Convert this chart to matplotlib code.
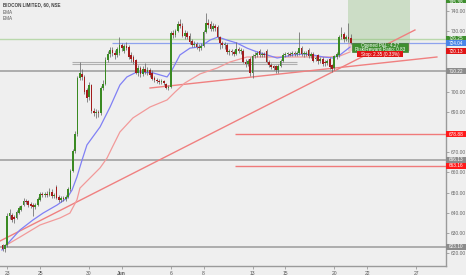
import matplotlib
matplotlib.use("Agg")
import matplotlib.pyplot as plt
import matplotlib.transforms as mtransforms
from matplotlib.patches import Rectangle

plt.rcParams['font.family'] = ['Liberation Sans', 'DejaVu Sans']

# ---------------- data (hourly bars, index 0 = first bar of 23 May) ----------------
first_bar = -2
opens = [624, 621.8,
         624, 638.5, 639, 638, 637.5, 640, 641.5,
         644, 646, 646, 644.5, 644, 643, 644,
         646.5, 649.5, 649, 649.5, 649, 650.5, 648.5,
         652.5, 648, 646.5, 647.5, 647, 648, 651.5,
         660.5, 670.5, 679, 707, 709, 707.5, 701,
         697.5, 703.5, 690.5, 689.5, 690, 689.5, 702,
         704, 715.5, 718.5, 720.5, 719, 718, 719,
         723, 720, 722.5, 722, 718, 717, 715.5,
         709.5, 711.5, 709, 711, 710, 710.5, 709.5,
         707, 706, 705.5, 705, 705.5, 704, 702,
         702.5, 729, 728, 730, 733.5, 732.5, 727.5,
         729, 727.5, 725, 723, 723.5, 722, 721.5,
         722.5, 729.5, 734, 733.5, 731, 732.5, 732,
         727, 724, 723, 723, 719.5, 720, 719.5,
         718.5, 721, 720, 720, 714.5, 713.5, 716,
         709.5, 717.5, 718, 720, 718, 718.5, 720,
         714.5, 713, 712.5, 712.5, 710.5, 712.5, 715,
         718, 718.5, 718.5, 718.5, 719, 718.5, 719,
         721.5, 718.5, 718.5, 720.5, 717.5, 718.5, 716,
         718, 715, 716, 714.5, 714, 716, 713,
         711.5, 717, 718, 727, 728.5, 726, 727,
         726.5]
highs = [624.5, 624.5,
         640, 642, 640, 639, 641.5, 643.5, 644,
         647.5, 647, 646.5, 645.5, 645, 645, 648,
         650.5, 650.5, 650.5, 651, 652, 651.5, 650,
         653.5, 649, 648.5, 648.5, 649, 652.5, 661.5,
         671.5, 680.5, 708, 714.7, 711, 708.5, 702,
         705, 704, 692, 691.5, 691, 703, 706,
         717, 720, 722, 722, 720.5, 722, 727,
         724, 723.5, 724.5, 723, 719.5, 718, 716,
         713, 712.5, 712.5, 714, 712, 711.5, 710.5,
         708, 707, 706.5, 706.5, 706, 704.5, 703.5,
         730, 730.5, 731, 735, 736, 734, 730.5,
         730, 729, 726, 725, 724.5, 723.5, 724,
         730.5, 739, 736, 735, 734, 733.5, 733,
         727.5, 725, 724.5, 724, 721, 721, 720.5,
         724.5, 722, 721.5, 721, 716, 716, 717,
         718.5, 719.5, 720, 721, 719.5, 719.5, 721,
         715.5, 714, 713, 713, 713.5, 716, 719,
         719.5, 719.5, 719.5, 720, 720, 720, 729.5,
         722.5, 720, 720, 721.5, 719.5, 719.5, 717.5,
         718.5, 717, 717, 715.5, 716, 717, 713.5,
         718, 719.5, 728, 732, 729.5, 728, 734,
         728.5]
lows = [621, 620.5,
        623, 637, 635.5, 635, 637, 639.5, 641,
        643.5, 644.5, 643, 642.5, 638.5, 642, 643.5,
        646, 648, 648, 648, 648.5, 647.5, 647.5,
        647, 645.5, 645.5, 646, 646, 647.5, 651,
        660, 669.5, 678, 706, 706, 699, 695,
        696, 689.5, 688, 687, 687.5, 688.5, 701,
        703.5, 714.5, 717, 717.5, 716, 717, 718,
        720, 719, 720.5, 716, 714.5, 713.5, 709,
        708, 707.5, 708, 709, 708.5, 707.5, 706,
        705, 704.5, 704, 704, 703.5, 701.5, 701,
        702, 726.5, 727, 729.5, 731.5, 727, 726,
        726, 723.5, 722, 722, 721, 720, 720.5,
        722, 729, 731.5, 730, 730, 730, 726,
        721, 721.5, 721, 718.5, 718, 718, 717.5,
        718, 719, 718.5, 714, 712, 712.5, 708,
        707, 716.5, 717, 717, 717, 717, 714,
        712, 711, 710.5, 709.5, 709.5, 712, 714.5,
        717, 717.5, 717.5, 717.5, 717.5, 717.5, 718,
        717.5, 717, 717.5, 716.5, 716.5, 714.5, 715,
        713.5, 714, 712.5, 712.5, 713, 711, 710,
        710.5, 716, 717, 726, 724.5, 725, 724.5,
        723.5]
closes = [621.8, 623.8,
          638.5, 640, 636.5, 637, 640.5, 642.5, 643.5,
          646, 645.5, 644, 643.5, 643, 644, 647,
          649.5, 649, 649.5, 649, 650.5, 648.5, 649,
          647.5, 646.5, 647.5, 647, 648, 651.5, 660.5,
          670.5, 679, 707, 709.5, 707.5, 700, 697,
          703.5, 690.5, 689.5, 690, 689.5, 702, 704,
          715.5, 718.5, 720.5, 719, 718, 721, 723,
          721.5, 722.5, 721.5, 717, 716, 714.5, 709.5,
          711.5, 709, 711, 710, 710.5, 708.5, 706.5,
          706, 705.5, 705, 705.5, 704.5, 702, 702.5,
          729, 728, 730, 733.5, 732.5, 727.5, 729,
          727, 724.5, 723, 723.5, 722, 721.5, 722.5,
          729.5, 734, 733, 731, 732.5, 731.5, 727,
          724, 723, 723.5, 719.5, 720, 719.5, 718.5,
          721, 720, 720.5, 714.5, 713.5, 715, 709.5,
          717.5, 718, 719, 718, 718.5, 718, 714.5,
          713, 712, 711.5, 710.5, 712.5, 715, 718,
          718.5, 718.7, 718.3, 719, 718.5, 719, 721.5,
          718.5, 718.8, 719, 717.5, 718.5, 715, 716.5,
          715, 716, 713.5, 714, 715, 712, 711,
          717.5, 718.5, 727, 728.5, 726, 727, 726,
          724]

tick_bars = [0, 14, 35, 49, 70, 84, 105, 119, 140, 154, 175]
tick_labels = ["23", "25", "30", "Jun", "6", "8", "13", "15", "20", "22", "27"]

ema_fast_x = [-2.3, 5.4, 11, 15.3, 21.3, 25.6, 27.7, 29.8, 32, 34.1, 39.7, 44, 48.2, 51.2,
              55.5, 62.4, 68.4, 70.5, 73.9, 78.2, 82.5, 86.8, 90.2, 94, 98.3, 102.6, 106.9,
              111.2, 115.5, 118, 122.3, 126.6, 130.9, 135.2, 139.4, 142.4, 146.7]
ema_fast_y = [621.5, 631.4, 636.4, 639.8, 643.8, 647.3, 651.2, 657.7, 666.1, 673.6, 682.5,
              692.4, 703.3, 707.3, 709.8, 709.3, 707.3, 710.7, 718.2, 721.6, 722.2, 725.6,
              727.1, 725.6, 724.1, 721.6, 719.7, 718.2, 716.7, 717.2, 718.2, 718.7, 718.2,
              717.2, 716.7, 718.2, 722.1]
ema_slow_x = [-1.8, 5.4, 14, 22.6, 26.8, 29.8, 31.1, 35.4, 39.7, 42.7, 44.8, 48.2, 53.8, 61.1,
              68.4, 71.8, 76, 82.5, 89.8, 95.3, 102.6, 109.5, 125.3, 138.1, 142.4, 146.7]
ema_slow_y = [623.0, 627.9, 633.9, 637.4, 639.8, 646.3, 652.2, 657.2, 662.2, 667.1, 672.1,
              680.0, 687.0, 692.4, 695.9, 699.8, 704.3, 708.8, 711.7, 714.7, 717.2, 717.2,
              717.2, 717.2, 717.7, 719.7]

trend_long_x = [-3.125, 174.5]
trend_long_y = [625.96, 730.58]
trend_short_x = [61.1, 183.9]
trend_short_y = [701.82, 717.19]

gray_levels = [710.22, 666.13, 623.10]
box_levels = [714.85, 713.55]
red_levels = [678.88, 663.16]
green_level = 726.25
entry = 724.04
target = 745.38
stop = 720.13

price_tags = [(745.38, '#3f8f2f'), (726.25, '#3f8f2f'), (724.04, '#4a86e8'), (720.13, '#e01515'),
              (710.22, '#8c8c8c'), (678.88, '#ff1a1a'), (666.13, '#8c8c8c'), (663.16, '#ff1a1a'),
              (623.10, '#8c8c8c')]
y_ticks = [620, 630, 640, 650, 660, 670, 680, 690, 700, 710, 720, 730, 740]
y_hidden = [680, 710, 720]   # tick labels covered by price tags in the reference

# ---------------- figure ----------------
W, H = 466, 275
fig = plt.figure(figsize=(W / 100, H / 100), dpi=100)
bg = '#efefef'
fig.patch.set_facecolor(bg)
ax = fig.add_axes([0, 9 / H, 446 / W, 266 / H])
ax.set_facecolor(bg)
ax.set_xlim(-3.125, 187.8)
ax.set_ylim(613.57, 745.45)

for s in ['top', 'left']:
    ax.spines[s].set_visible(False)
for s in ['right', 'bottom']:
    ax.spines[s].set_color('#9a9a9a')
    ax.spines[s].set_linewidth(1.0)

# horizontal levels
for lv in gray_levels:
    ax.axhline(lv, color='#a8a8a8', lw=1.3, zorder=1)
for lv in box_levels:
    ax.hlines(lv, 27.7, 124, color='#b0b0b0', lw=0.8, zorder=1)
for lv in red_levels:
    ax.hlines(lv, 97.5, 187.8, color='#f07a7a', lw=1.0, zorder=1)
ax.axhline(green_level, color='#b9d8ac', lw=1.0, zorder=1)
ax.hlines(entry, 44.8, 187.8, color='#8ea3ee', lw=0.9, zorder=1)

# position tool
ax.add_patch(Rectangle((145.9, entry), 26.5, target - entry, facecolor=(0.55, 0.74, 0.48, 0.35),
                       edgecolor='none', zorder=1.5))
ax.add_patch(Rectangle((145.9, stop), 26.5, entry - stop, facecolor=(0.95, 0.5, 0.5, 0.3),
                       edgecolor='none', zorder=1.5))

# trend lines
ax.plot(trend_long_x, trend_long_y, color='#f08080', lw=1.0, zorder=2)
ax.plot(trend_short_x, trend_short_y, color='#f08080', lw=1.0, zorder=2)

# EMAs
ax.plot(ema_slow_x, ema_slow_y, color='#f29a9a', lw=0.9, zorder=2)
ax.plot(ema_fast_x, ema_fast_y, color='#8080f5', lw=0.9, zorder=2)

# candles
idx = [first_bar + k for k in range(len(opens))]
up_c, dn_c = '#3a8a22', '#a31c1c'
ax.vlines(idx, lows, highs, color='#6a6a6a', lw=0.55, zorder=3)
bodies = []
cols = []
bots = []
for o, c in zip(opens, closes):
    b = min(o, c)
    h = max(abs(c - o), 0.45)
    bots.append(b)
    bodies.append(h)
    cols.append(up_c if c >= o else dn_c)
ax.bar(idx, bodies, bottom=bots, width=0.72, color=cols, linewidth=0, zorder=4)

# axes ticks
ax.set_xticks(tick_bars)
ax.set_xticklabels(tick_labels)
ax.tick_params(axis='x', length=2, width=0.5, color='#888888', labelsize=3.6,
               labelcolor='#555555', pad=1.5)
for t in ax.get_xticklabels():
    if t.get_text() == 'Jun':
        t.set_fontweight('bold')
ax.yaxis.tick_right()
ax.set_yticks(y_ticks)
ax.set_yticklabels(["" if v in y_hidden else f"{v:.2f}" for v in y_ticks])
ax.tick_params(axis='y', length=2, width=0.5, color='#888888', labelsize=3.5,
               labelcolor='#666666', pad=1.2)

# price tags on right axis
trans = mtransforms.blended_transform_factory(ax.transAxes, ax.transData)
ppx = (745.45 - 613.57) / 266.0
for val, col in price_tags:
    hh = 6.4 * ppx
    ax.add_patch(Rectangle((1.0, val - hh / 2), 20 / 446, hh, transform=trans, clip_on=False,
                           facecolor=col, edgecolor='none', zorder=10))
    ax.text(1.0 + 10 / 446, min(val, 745.45 - 3.0 * ppx) if val > 745 else val, f"{val:.2f}",
            transform=trans, ha='center', va='center',
            fontsize=3.4, color='white', zorder=11, clip_on=False)

# position labels
gc = 721.9
ax.add_patch(Rectangle((147.5, gc - 4.2 * ppx), 24.0, 8.4 * ppx, facecolor='#3f8f2f',
                       edgecolor='#2f7020', lw=0.4, zorder=8))
ax.text(159.5, gc + 1.9 * ppx, "Opened P&L: 4.27", ha='center', va='center', fontsize=3.3,
        color='white', zorder=9)
ax.text(159.5, gc - 2.2 * ppx, "Risk/Reward Ratio: 0.83", ha='center', va='center', fontsize=3.3,
        color='white', zorder=9)
ax.add_patch(Rectangle((149.6, 718.6 - 3.3 * ppx), 19.9, 6.6 * ppx, facecolor='#e01515',
                       edgecolor='none', zorder=9.5))
ax.text(159.5, 718.6, "Stop: 2.35 (0.33%)", ha='center', va='center', fontsize=3.3,
        color='white', zorder=10)

# header text
fig.text(3 / W, 1 - 5 / H, "BIOCON LIMITED, 60, NSE", fontsize=3.3, fontweight='bold',
         color='#444444', va='center', ha='left')
fig.text(3 / W, 1 - 12 / H, "EMA", fontsize=3.3, color='#555555', va='center', ha='left')
fig.text(3 / W, 1 - 19 / H, "EMA", fontsize=3.3, color='#555555', va='center', ha='left')

fig.savefig("out.png", dpi=100, facecolor=bg)
